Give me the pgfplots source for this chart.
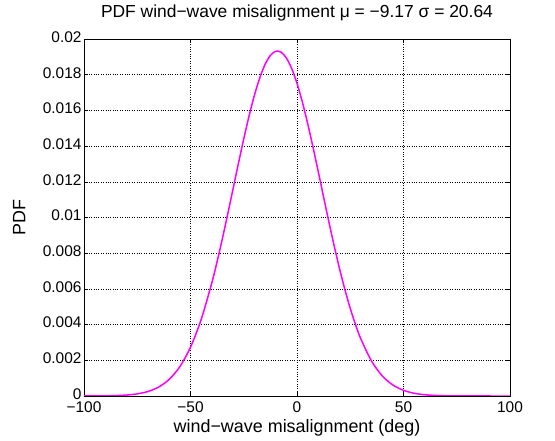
\documentclass[border=0pt]{standalone}
\usepackage{fontspec}
\setmainfont{Liberation Sans}
\usepackage{pgfplots}
\pgfplotsset{compat=1.18}
\definecolor{mag}{RGB}{255,0,255}
\begin{document}
\begin{tikzpicture}
\begin{axis}[
  scale only axis, width=426bp, height=357bp,
  xmin=-100, xmax=100, ymin=0, ymax=0.02,
  xtick={-100,-50,0,50,100},
  xticklabels={−100,−50,0,50,100},
  ytick={0,0.002,0.004,0.006,0.008,0.01,0.012,0.014,0.016,0.018,0.02},
  yticklabels={0,0.002,0.004,0.006,0.008,0.01,0.012,0.014,0.016,0.018,0.02},
  scaled y ticks=false,
  tick align=inside, major tick length=4bp,
  xtick pos=both, ytick pos=both,
  grid=major, grid style={black, dotted, line width=0.4pt},
  axis line style={black, line width=0.6pt},
  tick style={black, line width=0.5pt},
  ticklabel style={font=\fontsize{15.5}{17}\selectfont},
  xticklabel style={yshift=-5bp, inner ysep=0.5bp},
  yticklabel style={xshift=1bp, yshift=2bp, inner ysep=0.5bp},
  label style={font=\fontsize{18}{20}\selectfont},
  title style={font=\fontsize{17.5}{20}\selectfont, at={(axis description cs:0.5,1.056)}, anchor=center},
  title={PDF wind−wave misalignment μ = −9.17 σ = 20.64},
  xlabel={wind−wave misalignment (deg)},
  ylabel={PDF},
  xlabel style={at={(axis description cs:0.5,-0.088)}, anchor=center, inner ysep=1bp},
  ylabel style={at={(axis description cs:-0.152,0.5)}, anchor=center},
]
\addplot[mag, line width=1.5pt, smooth] coordinates {
(-100,1.21e-6) (-95,3.40e-6) (-90,9.03e-6) (-85,2.26e-5) (-80,5.36e-5)
(-75,1.195e-4) (-70,2.511e-4) (-65,4.983e-4) (-60,9.315e-4) (-55,1.643e-3)
(-50,2.732e-3) (-45,4.283e-3) (-40,6.334e-3) (-37.5,7.536e-3) (-35,8.833e-3)
(-32.5,1.0204e-2) (-30,1.1616e-2) (-27.5,1.3030e-2) (-25,1.4404e-2) (-22.5,1.5690e-2)
(-20,1.6843e-2) (-17.5,1.7817e-2) (-15,1.8573e-2) (-12.5,1.9079e-2) (-10,1.9313e-2)
(-7.5,1.9266e-2) (-5,1.8939e-2) (-2.5,1.8346e-2) (0,1.7513e-2) (2.5,1.6474e-2)
(5,1.5270e-2) (7.5,1.3949e-2) (10,1.2557e-2) (12.5,1.1139e-2) (15,9.737e-3)
(17.5,8.388e-3) (20,7.120e-3) (22.5,5.956e-3) (25,4.910e-3) (27.5,3.989e-3)
(30,3.193e-3) (35,1.958e-3) (40,1.132e-3)
(45,6.174e-4) (50,3.175e-4) (55,1.540e-4) (60,7.04e-5) (65,3.03e-5)
(70,1.23e-5) (75,4.73e-6) (80,1.71e-6) (85,5.8e-7) (90,1.9e-7) (95,5.7e-8) (100,1.6e-8)
};
\end{axis}
\path ([xshift=-84bp,yshift=-45bp]current axis.south west) rectangle ([xshift=45bp,yshift=39bp]current axis.north east);
\end{tikzpicture}
\end{document}
